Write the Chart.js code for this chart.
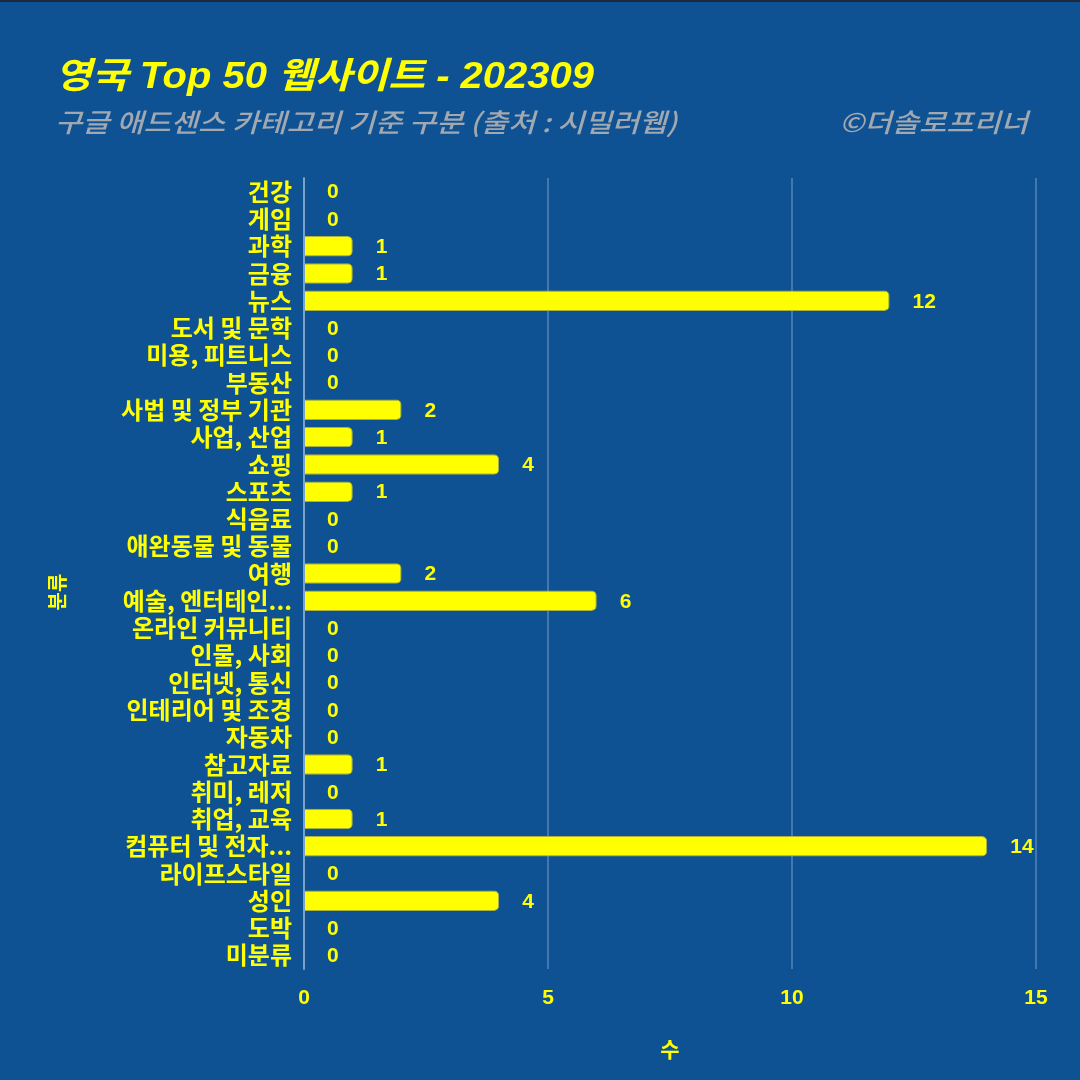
<!DOCTYPE html>
<html>
<head>
<meta charset="utf-8">
<script src="https://cdn.jsdelivr.net/npm/chart.js@4.4.0/dist/chart.umd.min.js"></script>
<style>
  html, body { margin: 0; padding: 0; background: #0E5294; }
  #wrap { width: 1080px; height: 1080px; position: relative; }
</style>
</head>
<body>
<div id="wrap"><canvas id="c" width="1080" height="1080"></canvas></div>
<script>
const categories = [
  "건강", "게임", "과학", "금융", "뉴스", "도서 및 문학", "미용, 피트니스", "부동산",
  "사법 및 정부 기관", "사업, 산업", "쇼핑", "스포츠", "식음료", "애완동물 및 동물",
  "여행", "예술, 엔터테인...", "온라인 커뮤니티", "인물, 사회", "인터넷, 통신",
  "인테리어 및 조경", "자동차", "참고자료", "취미, 레저", "취업, 교육",
  "컴퓨터 및 전자...", "라이프스타일", "성인", "도박", "미분류"
];
const counts = [0, 0, 1, 1, 12, 0, 0, 0, 2, 1, 4, 1, 0, 0, 2, 6, 0, 0, 0, 0, 0, 1, 0, 1, 14, 0, 4, 0, 0];
const xTicks = [0, 5, 10, 15];
const titleText = "영국 Top 50 웹사이트 - 202309";
const subtitleText = "구글 애드센스 카테고리 기준 구분 (출처 : 시밀러웹)";
const creditText = "©더솔로프리너";
const xTitle = "수";
const yTitle = "분류";

const FONT = "'Noto Sans CJK KR', 'Noto Sans', sans-serif";
const LFONT = "'Liberation Sans', 'Noto Sans CJK KR', sans-serif";
const YELLOW = "#FFFF00";
const BG = "#0E5294";

function drawScaledText(ctx, text, x, y, sx, align) {
  ctx.save();
  ctx.translate(x, y);
  ctx.scale(sx, 1);
  ctx.textAlign = align;
  ctx.fillText(text, 0, 0);
  ctx.restore();
}

const bgPlugin = {
  id: 'bg',
  beforeDraw(chart) {
    const ctx = chart.ctx;
    ctx.save();
    ctx.fillStyle = BG;
    ctx.fillRect(0, 0, chart.width, chart.height);
    ctx.fillStyle = "#1b2a40";
    ctx.fillRect(0, 0, chart.width, 2);
    ctx.restore();
  },
  afterDraw(chart) {
    const ctx = chart.ctx;
    ctx.save();
    ctx.textBaseline = 'alphabetic';
    ctx.fillStyle = YELLOW;
    ctx.font = "italic bold 36px " + LFONT;
    drawScaledText(ctx, titleText, 55, 88, 1.11, 'left');
    ctx.fillStyle = "#A2A8B0";
    ctx.font = "italic 500 26px " + FONT;
    drawScaledText(ctx, subtitleText, 55, 132, 1.14, 'left');
    drawScaledText(ctx, creditText, 1028, 132, 1.14, 'right');
    // y axis title
    ctx.fillStyle = YELLOW;
    ctx.font = "bold 20px " + FONT;
    ctx.translate(57, 592);
    ctx.rotate(-Math.PI / 2);
    ctx.textAlign = 'center';
    ctx.textBaseline = 'middle';
    ctx.fillText(yTitle, 0, 0);
    ctx.restore();
  }
};

const labelPlugin = {
  id: 'vlabels',
  afterDatasetsDraw(chart) {
    const ctx = chart.ctx;
    const meta = chart.getDatasetMeta(0);
    ctx.save();
    ctx.fillStyle = YELLOW;
    ctx.font = "bold 21px " + LFONT;
    ctx.textAlign = 'left';
    ctx.textBaseline = 'middle';
    meta.data.forEach((el, i) => {
      ctx.fillText(String(counts[i]), el.x + 23, el.y + 1);
    });
    ctx.restore();
  }
};

new Chart(document.getElementById('c'), {
  type: 'bar',
  data: {
    labels: categories,
    datasets: [{
      data: counts,
      backgroundColor: YELLOW,
      borderColor: "#a9b03c",
      borderWidth: 1,
      borderSkipped: 'start',
      borderRadius: 5,
      barPercentage: 0.75,
      categoryPercentage: 1.0
    }]
  },
  options: {
    indexAxis: 'y',
    responsive: false,
    animation: false,
    layout: { padding: { top: 178, left: 40, right: 44, bottom: 0 } },
    plugins: {
      legend: { display: false },
      tooltip: { enabled: false },
      title: { display: false }
    },
    scales: {
      x: {
        min: 0, max: 15,
        afterBuildTicks(scale) { scale.ticks = xTicks.map(v => ({ value: v })); },
        afterFit(scale) { scale.height = 111; },
        grid: { color: 'rgba(190,210,235,0.3)', lineWidth: 2, drawTicks: false },
        border: { display: false },
        ticks: { color: YELLOW, font: { family: LFONT, size: 21, weight: 'bold' }, padding: 17 },
        title: { display: true, text: xTitle, color: YELLOW, font: { family: FONT, size: 21, weight: 'bold' }, padding: { top: 4, bottom: 18 } }
      },
      y: {
        afterFit(scale) { scale.width = 264; },
        grid: { display: false },
        border: { display: true, color: 'rgba(190,210,235,0.45)', width: 2 },
        ticks: { color: YELLOW, font: { family: FONT, size: 24, weight: 'bold' }, padding: 4, autoSkip: false },
        title: { display: false }
      }
    }
  },
  plugins: [bgPlugin, labelPlugin]
});
</script>
</body>
</html>
